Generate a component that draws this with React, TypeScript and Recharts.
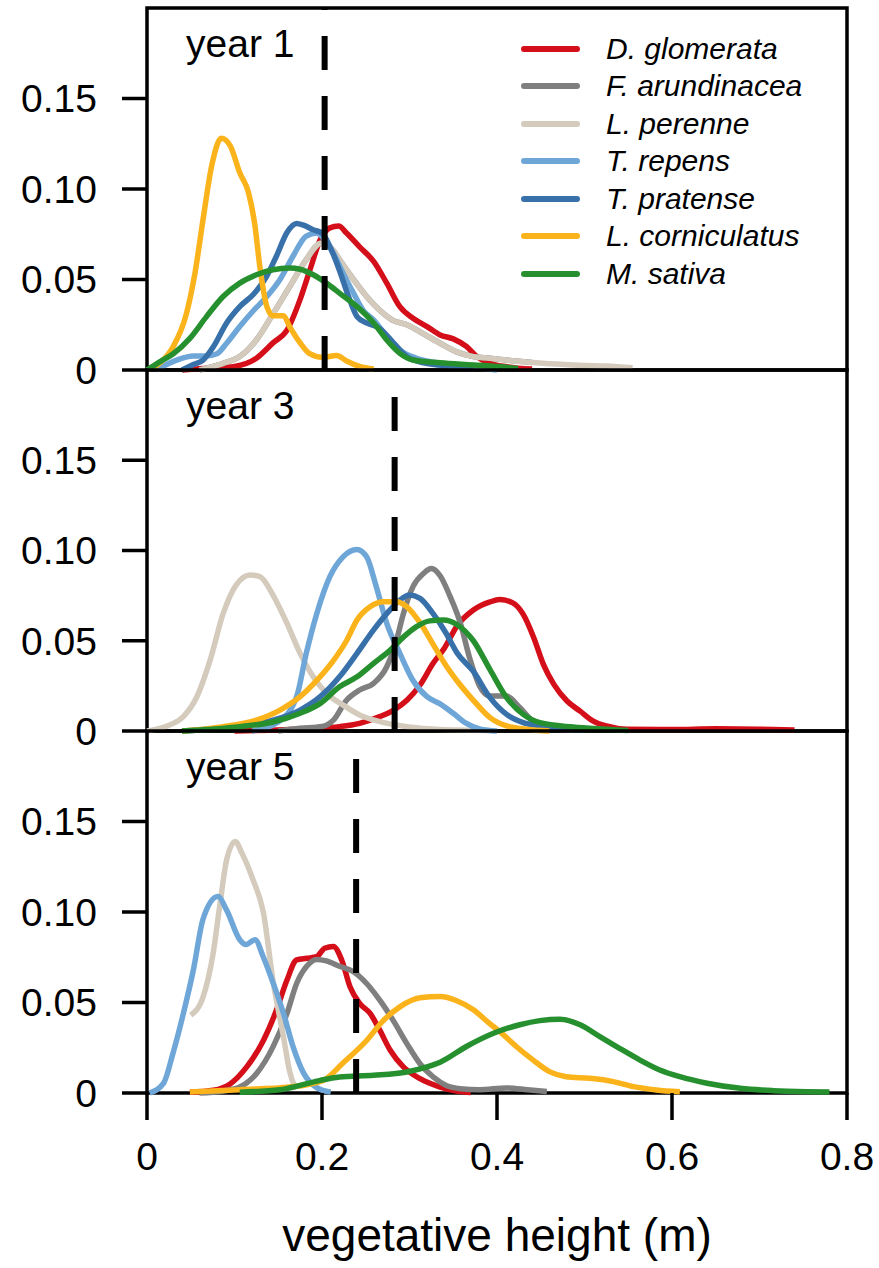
import { Label, Line, LineChart, ReferenceArea, ReferenceLine, XAxis, YAxis } from "recharts";

type Pt = [number, number]; // [height m, density]

const FONT = '"Liberation Sans", Arial, sans-serif';

const SPECIES = [
  "D. glomerata",
  "F. arundinacea",
  "L. perenne",
  "T. repens",
  "T. pratense",
  "L. corniculatus",
  "M. sativa",
];
const COLORS = ["#d50f1a", "#7f7f7f", "#d4cbbd", "#6ea6d8", "#3871aa", "#fbb31b", "#26902f"];
const PANEL_LABELS = ["year 1", "year 3", "year 5"];
const MEDIAN_HEIGHT = [0.203, 0.283, 0.239];
const X_TICKS = [0, 0.2, 0.4, 0.6, 0.8];
const Y_TICKS = [0, 0.05, 0.1, 0.15];

// ---- year 1 ----
const Y1_GLOMERATA: Pt[] = [
  [0.04, 0], [0.07, 0.001], [0.1, 0.002], [0.125, 0.0065], [0.144, 0.015], [0.16, 0.022],
  [0.175, 0.039], [0.186, 0.055], [0.198, 0.072], [0.209, 0.0785], [0.219, 0.0795],
  [0.228, 0.0757], [0.243, 0.068], [0.259, 0.06], [0.274, 0.048], [0.289, 0.035],
  [0.304, 0.0286], [0.32, 0.024], [0.335, 0.0194], [0.35, 0.0172], [0.365, 0.013],
  [0.377, 0.0074], [0.392, 0.0037], [0.411, 0.0018], [0.44, 0.0005],
];
// hidden under L. perenne in this panel
const Y1_ARUNDINACEA: Pt[] = [
  [0.06, 0], [0.087, 0.0037], [0.106, 0.0074], [0.125, 0.0166], [0.144, 0.031], [0.163, 0.046],
  [0.182, 0.061], [0.199, 0.07], [0.213, 0.066], [0.22, 0.061], [0.236, 0.05], [0.251, 0.0406],
  [0.266, 0.033], [0.28, 0.0277], [0.297, 0.025], [0.316, 0.02], [0.335, 0.0148],
  [0.354, 0.01], [0.373, 0.0074], [0.392, 0.0065], [0.411, 0.0055], [0.44, 0.0042],
];
const Y1_PERENNE: Pt[] = [
  [0.06, 0], [0.087, 0.0037], [0.106, 0.0074], [0.125, 0.0166], [0.144, 0.031], [0.163, 0.046],
  [0.182, 0.061], [0.199, 0.07], [0.213, 0.066], [0.22, 0.061], [0.236, 0.05], [0.251, 0.0406],
  [0.266, 0.033], [0.28, 0.0277], [0.297, 0.025], [0.316, 0.02], [0.335, 0.0148],
  [0.354, 0.01], [0.373, 0.0074], [0.392, 0.0065], [0.411, 0.0055], [0.44, 0.0042],
  [0.468, 0.0033], [0.5, 0.0025], [0.525, 0.0022], [0.555, 0.0012],
];
const Y1_REPENS: Pt[] = [
  [0.01, 0], [0.034, 0.0055], [0.053, 0.0078], [0.068, 0.0078], [0.08, 0.009], [0.091, 0.0148],
  [0.106, 0.024], [0.122, 0.033], [0.137, 0.0406], [0.152, 0.05], [0.167, 0.063],
  [0.182, 0.074], [0.194, 0.0757], [0.203, 0.072], [0.213, 0.0646], [0.224, 0.0535],
  [0.236, 0.0425], [0.247, 0.033], [0.259, 0.0277], [0.274, 0.0185], [0.289, 0.011],
  [0.308, 0.0065], [0.335, 0.0037], [0.373, 0.0015], [0.4, 0],
];
const Y1_PRATENSE: Pt[] = [
  [0.04, 0], [0.053, 0.003], [0.064, 0.0055], [0.076, 0.013], [0.091, 0.026], [0.106, 0.035],
  [0.122, 0.042], [0.137, 0.052], [0.148, 0.063], [0.16, 0.076], [0.171, 0.081],
  [0.179, 0.08], [0.19, 0.0775], [0.2, 0.0757], [0.211, 0.066], [0.22, 0.055], [0.23, 0.041],
  [0.24, 0.0295], [0.251, 0.026], [0.266, 0.023], [0.282, 0.0148], [0.297, 0.0074],
  [0.316, 0.004], [0.354, 0.0018], [0.373, 0.0005],
];
const Y1_CORNICULATUS: Pt[] = [
  [0, 0], [0.015, 0.004], [0.03, 0.013], [0.045, 0.031], [0.055, 0.054], [0.064, 0.083],
  [0.074, 0.113], [0.085, 0.128], [0.095, 0.124], [0.106, 0.109], [0.116, 0.098],
  [0.123, 0.081], [0.129, 0.057], [0.137, 0.035], [0.144, 0.03], [0.156, 0.03],
  [0.163, 0.024], [0.175, 0.015], [0.186, 0.009], [0.2, 0.007], [0.217, 0.008],
  [0.228, 0.005], [0.243, 0.002], [0.259, 0.0005],
];
const Y1_SATIVA: Pt[] = [
  [0, 0], [0.015, 0.0046], [0.03, 0.009], [0.049, 0.0175], [0.068, 0.0295], [0.087, 0.0406],
  [0.106, 0.048], [0.125, 0.0526], [0.144, 0.0554], [0.163, 0.0563], [0.175, 0.0557],
  [0.19, 0.0526], [0.205, 0.048], [0.22, 0.0425], [0.24, 0.035], [0.259, 0.026],
  [0.274, 0.0166], [0.289, 0.0092], [0.304, 0.0055], [0.335, 0.004], [0.373, 0.0028],
  [0.411, 0.0015], [0.424, 0.0008],
];

// ---- year 3 ----
const Y3_GLOMERATA: Pt[] = [
  [0.1, 0], [0.182, 0.0013], [0.22, 0.0024], [0.243, 0.0042], [0.266, 0.008], [0.282, 0.0116],
  [0.297, 0.017], [0.312, 0.0255], [0.327, 0.0375], [0.34, 0.046], [0.354, 0.058],
  [0.373, 0.067], [0.392, 0.0715], [0.403, 0.0728], [0.418, 0.071], [0.43, 0.0646],
  [0.442, 0.0517], [0.453, 0.0369], [0.465, 0.0258], [0.48, 0.0166], [0.495, 0.011],
  [0.51, 0.0055], [0.525, 0.0028], [0.548, 0.001], [0.6, 0.0008], [0.65, 0.0012],
  [0.7, 0.001], [0.74, 0.0005],
];
const Y3_ARUNDINACEA: Pt[] = [
  [0.15, 0], [0.175, 0.0015], [0.2, 0.0025], [0.213, 0.006], [0.228, 0.017], [0.243, 0.0227],
  [0.259, 0.0264], [0.274, 0.0356], [0.285, 0.05], [0.293, 0.065], [0.304, 0.08],
  [0.316, 0.0873], [0.325, 0.09], [0.335, 0.086], [0.346, 0.075], [0.358, 0.06],
  [0.369, 0.04], [0.38, 0.025], [0.392, 0.0194], [0.411, 0.0194], [0.426, 0.013],
  [0.441, 0.0055], [0.46, 0.0018], [0.487, 0.0004],
];
const Y3_PERENNE: Pt[] = [
  [0, 0], [0.023, 0.0028], [0.0415, 0.008], [0.057, 0.019], [0.072, 0.039], [0.087, 0.065],
  [0.102, 0.081], [0.118, 0.0864], [0.129, 0.0855], [0.144, 0.0753], [0.16, 0.0596],
  [0.175, 0.043], [0.19, 0.03], [0.205, 0.0209], [0.224, 0.0144], [0.243, 0.0089],
  [0.266, 0.0052], [0.297, 0.0024], [0.335, 0.0008], [0.392, 0.0003],
];
const Y3_REPENS: Pt[] = [
  [0.12, 0], [0.15, 0.005], [0.171, 0.019], [0.182, 0.043], [0.194, 0.065], [0.209, 0.0855],
  [0.224, 0.0965], [0.24, 0.1006], [0.251, 0.0965], [0.262, 0.08], [0.274, 0.0596],
  [0.289, 0.043], [0.304, 0.028], [0.32, 0.019], [0.335, 0.015], [0.35, 0.0098],
  [0.365, 0.0042], [0.381, 0.001], [0.4, 0],
];
const Y3_PRATENSE: Pt[] = [
  [0.04, 0], [0.106, 0.0028], [0.144, 0.006], [0.175, 0.0116], [0.198, 0.019], [0.22, 0.03],
  [0.24, 0.043], [0.259, 0.056], [0.274, 0.065], [0.289, 0.0725], [0.3, 0.0753],
  [0.312, 0.0735], [0.327, 0.065], [0.342, 0.054], [0.354, 0.0435], [0.373, 0.033],
  [0.392, 0.0185], [0.411, 0.0092], [0.43, 0.0046], [0.449, 0.0028], [0.468, 0.0015],
  [0.5, 0.0005],
];
const Y3_CORNICULATUS: Pt[] = [
  [0.04, 0], [0.087, 0.0024], [0.125, 0.006], [0.152, 0.0116], [0.175, 0.019], [0.194, 0.028],
  [0.213, 0.039], [0.228, 0.05], [0.24, 0.0615], [0.255, 0.0688], [0.27, 0.0716],
  [0.285, 0.0716], [0.297, 0.0688], [0.312, 0.06], [0.327, 0.048], [0.342, 0.036],
  [0.354, 0.028], [0.373, 0.017], [0.392, 0.0074], [0.411, 0.0028], [0.434, 0.001], [0.46, 0],
];
const Y3_SATIVA: Pt[] = [
  [0.04, 0], [0.106, 0.0024], [0.144, 0.005], [0.175, 0.0098], [0.198, 0.0153], [0.22, 0.0245],
  [0.24, 0.03], [0.259, 0.0375], [0.278, 0.0448], [0.293, 0.052], [0.308, 0.0578],
  [0.323, 0.061], [0.339, 0.0615], [0.354, 0.059], [0.373, 0.05], [0.392, 0.034],
  [0.411, 0.0185], [0.43, 0.0092], [0.449, 0.0046], [0.487, 0.0022], [0.525, 0.001],
  [0.55, 0.0003],
];

// ---- year 5 (no T. pratense) ----
const Y5_GLOMERATA: Pt[] = [
  [0.049, 0.0004], [0.076, 0.0015], [0.095, 0.005], [0.114, 0.0144], [0.133, 0.029],
  [0.148, 0.0458], [0.16, 0.0624], [0.171, 0.0735], [0.1825, 0.0744], [0.194, 0.0753],
  [0.203, 0.08], [0.213, 0.081], [0.2225, 0.0735], [0.232, 0.0587], [0.243, 0.0495],
  [0.255, 0.044], [0.266, 0.0347], [0.278, 0.0236], [0.293, 0.0144], [0.312, 0.0079],
  [0.335, 0.0033], [0.354, 0.0011], [0.37, 0.0003],
];
const Y5_ARUNDINACEA: Pt[] = [
  [0.06, 0], [0.087, 0.0011], [0.106, 0.0033], [0.125, 0.0107], [0.144, 0.0255], [0.16, 0.044],
  [0.171, 0.0605], [0.1825, 0.07], [0.194, 0.0738], [0.205, 0.073], [0.22, 0.07],
  [0.236, 0.067], [0.251, 0.0605], [0.266, 0.0513], [0.2815, 0.04], [0.297, 0.0273],
  [0.312, 0.0162], [0.327, 0.0089], [0.342, 0.0042], [0.358, 0.0024], [0.38, 0.0018],
  [0.411, 0.0028], [0.435, 0.0018], [0.457, 0.0008],
];
const Y5_PERENNE: Pt[] = [
  [0.05, 0.043], [0.064, 0.053], [0.0757, 0.0775], [0.083, 0.103], [0.0911, 0.129],
  [0.101, 0.139], [0.108, 0.133], [0.121, 0.118], [0.133, 0.0997], [0.144, 0.062],
  [0.156, 0.031], [0.163, 0.012], [0.17, 0.002],
];
const Y5_REPENS: Pt[] = [
  [0.003, 0], [0.019, 0.0055], [0.0297, 0.022], [0.0416, 0.044], [0.053, 0.068], [0.064, 0.096],
  [0.081, 0.1085], [0.091, 0.101], [0.106, 0.0847], [0.113, 0.082], [0.1234, 0.0847],
  [0.133, 0.075], [0.144, 0.061], [0.156, 0.044], [0.167, 0.0255], [0.179, 0.011],
  [0.194, 0.003], [0.21, 0.0005],
];
const Y5_CORNICULATUS: Pt[] = [
  [0.049, 0.0005], [0.106, 0.0018], [0.163, 0.0033], [0.2015, 0.007], [0.224, 0.0166],
  [0.251, 0.029], [0.27, 0.04], [0.289, 0.0476], [0.312, 0.0526], [0.335, 0.0533],
  [0.354, 0.051], [0.373, 0.046], [0.39, 0.039], [0.403, 0.034], [0.422, 0.0257],
  [0.441, 0.0183], [0.46, 0.0118], [0.479, 0.009], [0.506, 0.0081], [0.533, 0.0063],
  [0.556, 0.0035], [0.582, 0.0017], [0.609, 0.0007],
];
const Y5_SATIVA: Pt[] = [
  [0.106, 0.0004], [0.152, 0.0018], [0.175, 0.0042], [0.198, 0.007], [0.22, 0.0089],
  [0.259, 0.0098], [0.297, 0.0116], [0.32, 0.0144], [0.335, 0.017], [0.365, 0.0257],
  [0.396, 0.033], [0.426, 0.0377], [0.449, 0.04], [0.472, 0.0408], [0.495, 0.0377],
  [0.518, 0.031], [0.54, 0.0247], [0.563, 0.0183], [0.586, 0.0127], [0.609, 0.009],
  [0.64, 0.0054], [0.678, 0.0026], [0.716, 0.0013], [0.754, 0.0007], [0.78, 0.0005],
];

// curves per panel, in legend order (null = species not present)
const PANELS: (Pt[] | null)[][] = [
  [Y1_GLOMERATA, Y1_ARUNDINACEA, Y1_PERENNE, Y1_REPENS, Y1_PRATENSE, Y1_CORNICULATUS, Y1_SATIVA],
  [Y3_GLOMERATA, Y3_ARUNDINACEA, Y3_PERENNE, Y3_REPENS, Y3_PRATENSE, Y3_CORNICULATUS, Y3_SATIVA],
  [Y5_GLOMERATA, Y5_ARUNDINACEA, Y5_PERENNE, Y5_REPENS, null, Y5_CORNICULATUS, Y5_SATIVA],
];

// layout (px)
const W = 879;
const PLOT_LEFT = 147;
const PLOT_RIGHT = 32;
const PANEL_TOP = [8, 370, 731];
const PLOT_H = [362, 361, 362];
const X_AXIS_H = 175;
const SPARE = 30; // room below hidden x axes so the "0" tick label is not clipped

const toRows = (pts: Pt[]) => pts.map(([x, y]) => ({ x, y }));
const fmtY = (v: number) => (v === 0 ? "0" : v.toFixed(2));
const fmtX = (v: number) => (v === 0 ? "0" : String(v));

function Panel({ idx }: { idx: number }) {
  const showX = idx === PANELS.length - 1;
  const bottom = showX ? 0 : SPARE;
  const h = 8 + PLOT_H[idx] + (showX ? X_AXIS_H : SPARE);
  return (
    <div style={{ position: "absolute", left: 0, top: PANEL_TOP[idx] - 8 }}>
      <LineChart width={W} height={h} margin={{ top: 8, right: PLOT_RIGHT, bottom, left: 0 }}>
        <XAxis
          type="number"
          dataKey="x"
          domain={[0, 0.8]}
          ticks={X_TICKS}
          hide={!showX}
          height={X_AXIS_H}
          axisLine={false}
          tickLine={{ stroke: "#000", strokeWidth: 3.5 }}
          tickSize={27}
          tickMargin={22}
          tickFormatter={fmtX}
          tick={{ fontSize: 39, fill: "#000", fontFamily: FONT }}
        >
          {showX && (
            <Label
              value="vegetative height (m)"
              position="insideBottom"
              offset={17}
              style={{ fontSize: 46, fill: "#000", fontFamily: FONT }}
            />
          )}
        </XAxis>
        <YAxis
          type="number"
          domain={[0, 0.2]}
          ticks={Y_TICKS}
          width={PLOT_LEFT}
          axisLine={false}
          tickLine={{ stroke: "#000", strokeWidth: 3.5 }}
          tickSize={25}
          tickMargin={25}
          tickFormatter={fmtY}
          tick={{ fontSize: 39, fill: "#000", fontFamily: FONT }}
        />
        <ReferenceArea
          x1={0}
          x2={0.8}
          y1={0}
          y2={0.2}
          fill="none"
          fillOpacity={0}
          stroke="#000"
          strokeWidth={3.5}
          ifOverflow="visible"
        />
        {PANELS[idx].map((pts, i) =>
          pts ? (
            <Line
              key={SPECIES[i]}
              data={toRows(pts)}
              dataKey="y"
              type="monotone"
              stroke={COLORS[i]}
              strokeWidth={5.5}
              strokeLinejoin="round"
              dot={false}
              activeDot={false}
              isAnimationActive={false}
            />
          ) : null
        )}
        <ReferenceLine
          x={MEDIAN_HEIGHT[idx]}
          stroke="#000"
          strokeWidth={6}
          strokeDasharray="34 26"
        />
      </LineChart>
      <div
        style={{
          position: "absolute",
          left: 186,
          top: 8 + 16,
          fontSize: 39,
          lineHeight: "39px",
          fontFamily: FONT,
          color: "#000",
        }}
      >
        {PANEL_LABELS[idx]}
      </div>
    </div>
  );
}

function SpeciesLegend() {
  return (
    <div style={{ position: "absolute", left: 521, top: 30, fontFamily: FONT }}>
      {SPECIES.map((s, i) => (
        <div key={s} style={{ display: "flex", alignItems: "center", height: 37.5 }}>
          <span
            style={{
              display: "inline-block",
              width: 59,
              height: 6,
              borderRadius: 3,
              backgroundColor: COLORS[i],
              marginRight: 26,
            }}
          />
          <span style={{ fontSize: 30, fontStyle: "italic", color: "#000" }}>{s}</span>
        </div>
      ))}
    </div>
  );
}

export default function App() {
  return (
    <div
      style={{
        position: "absolute",
        left: 0,
        top: 0,
        width: W,
        height: 1268,
        background: "#fff",
        overflow: "hidden",
      }}
    >
      {PANEL_LABELS.map((_, i) => (
        <Panel key={i} idx={i} />
      ))}
      <SpeciesLegend />
    </div>
  );
}
